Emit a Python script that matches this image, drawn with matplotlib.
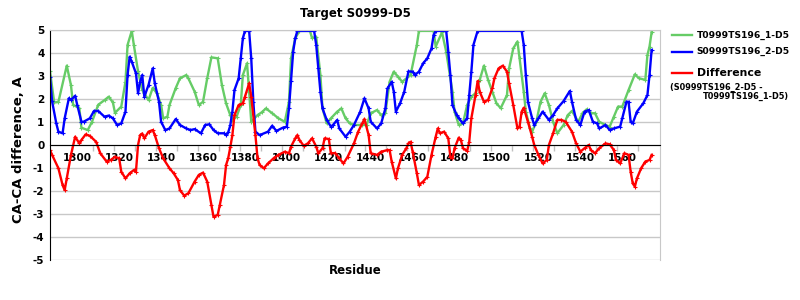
import matplotlib
matplotlib.use("Agg")
import matplotlib.pyplot as plt
from matplotlib.lines import Line2D

# T0999TS196_1-D5 (green)
res_t = [1287, 1289, 1291, 1295, 1297, 1298, 1301, 1302, 1305, 1307, 1310, 1313, 1315, 1317,
         1318, 1321, 1323, 1324, 1326, 1327, 1329, 1331, 1332, 1334, 1336, 1338, 1340, 1341,
         1343, 1344, 1347, 1349, 1352, 1353, 1356, 1358, 1360, 1362, 1364, 1367, 1369, 1371,
         1373, 1374, 1376, 1378, 1379, 1381, 1382, 1383, 1386, 1388, 1390, 1393, 1396, 1399,
         1401, 1402, 1404, 1406, 1411, 1412, 1414, 1416, 1417, 1419, 1421, 1424, 1426, 1428,
         1430, 1432, 1436, 1438, 1440, 1443, 1445, 1447, 1449, 1451, 1453, 1455, 1459, 1462,
         1463, 1470, 1471, 1474, 1476, 1479, 1480, 1482, 1484, 1486, 1488, 1490, 1492, 1494,
         1496, 1498, 1500, 1502, 1505, 1506, 1508, 1510, 1511, 1513, 1514, 1516, 1517, 1519,
         1521, 1523, 1525, 1527, 1529, 1532, 1534, 1536, 1539, 1541, 1543, 1545, 1547, 1549,
         1552, 1554, 1556, 1558, 1560, 1563, 1566, 1568, 1571, 1572, 1573, 1574]
val_t = [3.2, 1.85, 1.87, 3.45, 2.6, 1.75, 1.6, 0.75, 0.65, 1.0, 1.75, 1.95, 2.1, 1.85,
         1.4, 1.67, 2.75, 4.35, 4.96, 4.35, 3.2, 2.4, 2.25, 1.95, 2.48, 2.25, 1.74, 1.16,
         1.23, 1.74, 2.48, 2.9, 3.04, 2.9, 2.32, 1.74, 1.88, 2.9, 3.81, 3.77, 2.61, 1.81,
         1.3, 1.09, 1.23, 1.74, 3.04, 3.55, 2.32, 1.01, 1.3, 1.42, 1.59, 1.38, 1.16, 1.01,
         1.88, 3.77, 4.64, 4.96, 4.96, 4.65, 4.7, 3.04, 1.59, 0.94, 1.16, 1.45, 1.59, 1.16,
         0.94, 0.87, 0.87, 0.87, 1.38, 1.52, 1.3, 1.39, 2.75, 3.19, 2.97, 2.75, 3.04, 4.35,
         4.96, 4.96, 4.28, 4.9, 4.06, 2.32, 1.45, 0.87, 0.94, 1.74, 2.1, 2.25, 2.83, 3.45,
         2.83, 2.32, 1.81, 1.6, 2.17, 3.33, 4.2, 4.5, 3.77, 2.32, 1.45, 0.72, 0.58, 1.01,
         1.88, 2.25, 1.74, 1.01, 0.51, 0.87, 1.3, 1.48, 1.01, 1.38, 1.55, 1.38, 1.38, 1.01,
         0.87, 0.8, 1.23, 1.67, 1.67, 2.39, 3.07, 2.9, 2.83, 3.91, 4.28, 4.9]

# S0999TS196_2-D5 (blue)
res_s = [1287, 1288, 1290, 1291, 1293, 1294, 1296, 1297, 1299, 1300, 1302, 1303, 1306, 1308,
         1310, 1313, 1315, 1317, 1319, 1321, 1323, 1324, 1325, 1326, 1328, 1329, 1330, 1331,
         1332, 1334, 1336, 1337, 1339, 1340, 1342, 1344, 1347, 1349, 1352, 1354, 1356, 1359,
         1361, 1363, 1365, 1367, 1370, 1371, 1372, 1373, 1374, 1375, 1377, 1378, 1379, 1380,
         1382, 1383, 1384, 1385, 1387, 1391, 1393, 1395, 1398, 1400, 1401, 1402, 1403, 1404,
         1405, 1413, 1414, 1415, 1416, 1417, 1419, 1421, 1422, 1424, 1425, 1428, 1430, 1432,
         1435, 1437, 1439, 1440, 1443, 1445, 1447, 1448, 1450, 1451, 1452, 1454, 1456, 1458,
         1460, 1461, 1463, 1465, 1467, 1469, 1470, 1471, 1476, 1477, 1478, 1479, 1481, 1482,
         1484, 1486, 1487, 1488, 1489, 1491, 1512, 1513, 1514, 1515, 1517, 1518, 1520, 1522,
         1525, 1527, 1529, 1532, 1535, 1536, 1538, 1540, 1542, 1544, 1546, 1548, 1549, 1552,
         1554, 1556, 1559, 1560, 1562, 1563, 1564, 1565, 1567, 1570, 1572, 1573, 1574]
val_s = [2.97, 1.9, 0.94, 0.58, 0.51, 1.16, 2.03, 1.96, 2.14, 1.74, 1.01, 1.01, 1.16, 1.48,
         1.48, 1.23, 1.28, 1.16, 0.87, 0.94, 1.45, 3.04, 3.84, 3.62, 3.12, 2.25, 2.75, 3.04,
         2.1, 2.61, 3.33, 2.68, 1.88, 1.01, 0.65, 0.72, 1.13, 0.87, 0.72, 0.65, 0.69, 0.51,
         0.87, 0.9, 0.65, 0.51, 0.51, 0.43, 0.55, 0.85, 1.45, 2.39, 2.9, 3.77, 4.64, 4.96,
         4.96, 3.77, 1.88, 0.58, 0.43, 0.58, 0.84, 0.61, 0.75, 0.8, 1.59, 2.8, 4.06, 4.64,
         4.96, 4.96, 4.35, 3.33, 2.32, 1.59, 1.09, 0.8, 0.87, 1.09, 0.72, 0.36, 0.58, 0.87,
         1.45, 2.03, 1.59, 1.01, 0.72, 0.94, 1.59, 2.46, 2.75, 2.32, 1.45, 1.81, 2.32, 3.2,
         3.19, 3.04, 3.19, 3.55, 3.77, 4.2, 4.78, 4.96, 4.96, 4.06, 3.04, 1.74, 1.3, 1.16,
         0.94, 1.16, 2.17, 3.19, 4.35, 4.96, 4.96, 4.35, 3.04, 1.88, 1.16, 0.87, 1.16, 1.45,
         1.09, 1.3, 1.59, 1.91, 2.35, 1.88, 1.09, 0.87, 1.45, 1.52, 1.01, 0.94, 0.72, 0.87,
         0.65, 0.72, 0.8, 1.16, 1.88, 1.88, 1.01, 0.94, 1.45, 1.81, 2.17, 3.04, 4.13]

# Difference (red)
res_d = [1287, 1288, 1291, 1293, 1294, 1295, 1297, 1299, 1301, 1302, 1304, 1306, 1309, 1311,
         1314, 1316, 1318, 1320, 1321, 1323, 1325, 1327, 1328, 1329, 1330, 1331, 1332, 1334,
         1336, 1337, 1339, 1341, 1344, 1346, 1348, 1349, 1351, 1353, 1356, 1358, 1360, 1362,
         1364, 1365, 1367, 1368, 1370, 1371, 1372, 1373, 1374, 1375, 1377, 1379, 1380, 1382,
         1383, 1385, 1386, 1387, 1389, 1391, 1394, 1396, 1399, 1401, 1402, 1404, 1405, 1406,
         1408, 1410, 1412, 1414, 1415, 1417, 1418, 1420, 1421, 1423, 1425, 1427, 1429, 1432,
         1434, 1436, 1437, 1439, 1440, 1443, 1445, 1448, 1449, 1450, 1452, 1453, 1455, 1457,
         1458, 1459, 1460, 1462, 1463, 1465, 1467, 1469, 1471, 1472, 1473, 1475, 1477, 1478,
         1479, 1480, 1482, 1483, 1484, 1486, 1487, 1488, 1490, 1491, 1492, 1494, 1496, 1498,
         1499, 1501, 1503, 1505, 1506, 1508, 1510, 1511, 1512, 1513, 1515, 1517, 1518, 1520,
         1522, 1524, 1525, 1527, 1529, 1531, 1533, 1536, 1538, 1540, 1542, 1544, 1545, 1547,
         1549, 1552, 1554, 1556, 1557, 1559, 1561, 1563, 1564, 1565, 1566, 1567, 1569, 1571,
         1573, 1574]
val_d = [-0.22, -0.43, -1.01, -1.74, -1.96, -1.45, -0.43, 0.36, 0.07, 0.22, 0.46, 0.4, 0.14, -0.36,
         -0.72, -0.65, -0.51, -0.58, -1.16, -1.45, -1.23, -1.09, -1.16, 0.0, 0.43, 0.5, 0.29, 0.58,
         0.65, 0.43, -0.14, -0.58, -1.01, -1.23, -1.52, -1.96, -2.2, -2.1, -1.59, -1.3, -1.2, -1.59,
         -2.61, -3.12, -3.04, -2.61, -1.74, -0.87, -0.58, -0.1, 0.43, 1.3, 1.74, 1.81, 2.1, 2.68,
         2.1, 0.43, -0.58, -0.87, -1.01, -0.8, -0.55, -0.43, -0.29, -0.36, -0.07, 0.29, 0.43, 0.22,
         -0.03, 0.07, 0.29, -0.07, -0.36, -0.14, 0.29, 0.26, -0.36, -0.35, -0.58, -0.8, -0.51, 0.07,
         0.58, 0.94, 1.13, 0.43, -0.36, -0.43, -0.29, -0.22, -0.22, -0.72, -1.45, -1.01, -0.43, -0.14,
         0.07, 0.14, -0.29, -1.23, -1.74, -1.59, -1.38, -0.43, 0.36, 0.72, 0.51, 0.58, 0.29, -0.51,
         -0.58, -0.14, 0.32, 0.22, -0.14, -0.26, 0.14, 1.16, 2.17, 2.78, 2.32, 1.88, 1.96, 2.46,
         2.9, 3.33, 3.45, 3.19, 2.68, 1.74, 0.72, 0.8, 1.45, 1.62, 1.01, 0.36, 0.0, -0.43,
         -0.8, -0.65, 0.0, 0.51, 1.09, 1.09, 1.01, 0.58, 0.07, -0.29, -0.14, 0.0, -0.22, -0.36,
         -0.14, 0.07, 0.03, -0.22, -0.65, -0.8, -0.36, -0.43, -1.16, -1.67, -1.81, -1.45, -1.01, -0.72,
         -0.65, -0.43]

labels = ["T0999TS196_1-D5", "S0999TS196_2-D5", "Difference"]
colors = ["#66cc66", "#0000ff", "#ff0000"]
xticks = list(range(1300, 1561, 20))
yticks = list(range(-5, 6))

plt.rcParams["font.family"] = "DejaVu Sans"
plt.rcParams["font.weight"] = "bold"
plt.rcParams["axes.unicode_minus"] = False

fig = plt.figure(figsize=(8, 3), dpi=100)
ax = fig.add_axes([0.0625, 0.1333, 0.7625, 0.7667])

for r, v, c in zip([res_t, res_s, res_d], [val_t, val_s, val_d], colors):
    ax.plot(r, v, "-", color=c, lw=1.7, marker="+", ms=3, mew=0.8)

ax.set_xlim(1287, 1578)
ax.set_ylim(-5, 5)
ax.set_yticks(yticks)
ax.set_xticks(xticks)
ax.set_xticks([t - 2.5 for t in range(1300, 1580, 10)], minor=True)
ax.tick_params(axis="x", which="major", length=0, pad=6, labelsize=7.5)
ax.tick_params(axis="x", which="minor", length=4, color="#c0c0c0", width=1)
ax.tick_params(axis="y", length=0, pad=4, labelsize=7.5)
for lab in ax.get_xticklabels() + ax.get_yticklabels():
    lab.set_fontweight("bold")

ax.yaxis.grid(True, color="#c8c8c8", lw=1)
ax.set_axisbelow(True)
ax.spines["bottom"].set_position(("data", 0))
ax.spines["bottom"].set_color("black")
ax.spines["left"].set_color("black")
ax.spines["top"].set_color("#c8c8c8")
ax.spines["right"].set_color("#c8c8c8")

ax.set_title("Target S0999-D5", fontsize=8.5, fontweight="bold", pad=9)
fig.text(0.023, 0.5, "CA-CA difference, A", rotation=90, fontsize=9.5,
         fontweight="bold", ha="center", va="center")
fig.text(0.444, 0.1, "Residue", fontsize=8.5, fontweight="bold", ha="center", va="center")

# legend drawn by hand, to the right of the axes
leg_y = [0.883, 0.827, 0.757]
leg_size = [6.6, 6.6, 7.8]
for y, c, lab, fs in zip(leg_y, colors, labels, leg_size):
    fig.add_artist(Line2D([0.84, 0.865], [y, y], color=c, lw=1.7,
                          transform=fig.transFigure))
    fig.text(0.871, y, lab, fontsize=fs, fontweight="bold", va="center", ha="left")
fig.text(0.838, 0.71, "(S0999TS196_2-D5 -", fontsize=5.9, fontweight="bold",
         va="center", ha="left")
fig.text(0.879, 0.677, "T0999TS196_1-D5)", fontsize=5.9, fontweight="bold",
         va="center", ha="left")

fig.savefig("out.png", dpi=100)
